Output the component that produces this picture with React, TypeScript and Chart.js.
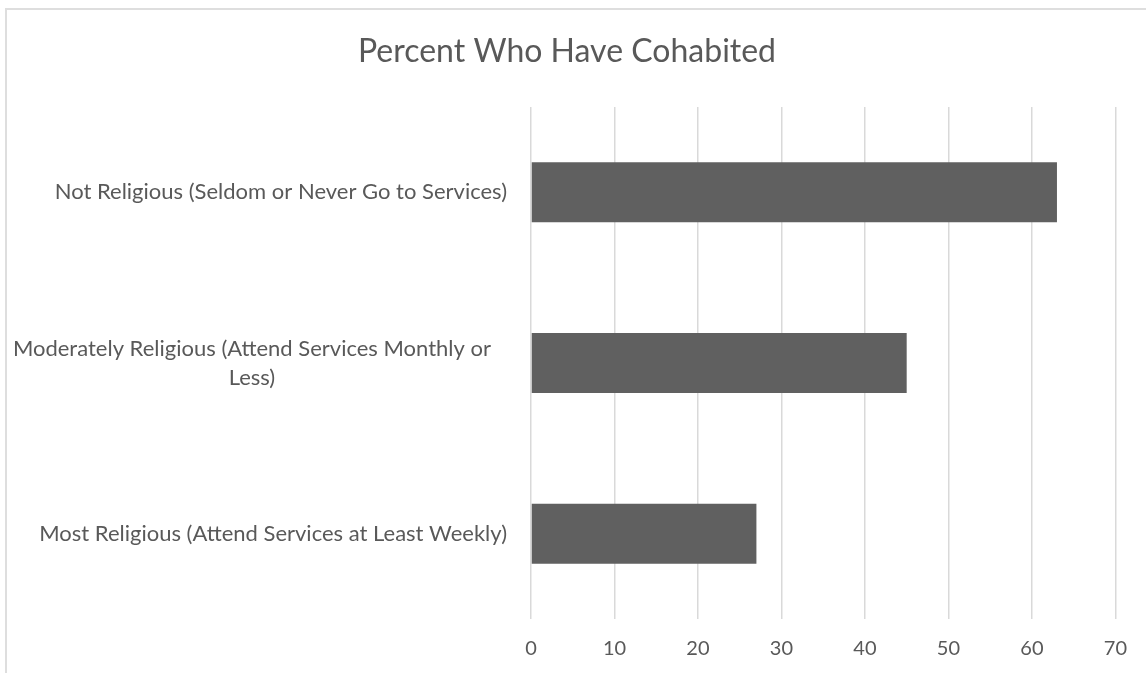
import React, { useEffect, useRef } from "react";
import { Chart, registerables } from "chart.js";

Chart.register(...registerables);

const chartTitle = "Percent Who Have Cohabited";
const categories: string[][] = [
  ["Not Religious (Seldom or Never Go to Services)"],
  ["Moderately Religious (Attend Services Monthly or", "Less)"],
  ["Most Religious (Attend Services at Least Weekly)"],
];
const values: number[] = [63, 45, 27];
const xMin = 0;
const xMax = 70;
const xStep = 10;

const TEXT = "#595959";
const FONT = "Lato, 'Open Sans', sans-serif";

const textPlugin = {
  id: "textPlugin",
  afterDraw(chart: any) {
    const ctx = chart.ctx;
    const ys = chart.scales.y;
    const labels = chart.data.labels as string[][];
    ctx.save();
    // title
    ctx.font = `32px ${FONT}`;
    ctx.fillStyle = TEXT;
    ctx.textAlign = "center";
    ctx.textBaseline = "middle";
    ctx.fillText(chartTitle, 567, 52);
    // category labels
    ctx.font = `22px ${FONT}`;
    const lh = 29;
    labels.forEach((lines, i) => {
      const yc = ys.getPixelForTick(i);
      if (lines.length === 1) {
        ctx.textAlign = "right";
        ctx.fillText(lines[0], 507, yc);
      } else {
        const maxW = Math.max(...lines.map((l) => ctx.measureText(l).width));
        const cx = 491 - maxW / 2;
        ctx.textAlign = "center";
        lines.forEach((l, j) => {
          ctx.fillText(l, cx, yc + (j - (lines.length - 1) / 2) * lh);
        });
      }
    });
    ctx.restore();
  },
};

export default function App() {
  const ref = useRef<HTMLCanvasElement | null>(null);
  useEffect(() => {
    if (!ref.current) return;
    const chart = new Chart(ref.current, {
      type: "bar",
      data: {
        labels: categories as any,
        datasets: [
          {
            label: chartTitle,
            data: values,
            backgroundColor: "#606060",
            borderWidth: 0,
            barPercentage: 0.352,
            categoryPercentage: 1,
          },
        ],
      },
      options: {
        indexAxis: "y",
        responsive: false,
        animation: false,
        layout: { padding: { left: 0, right: 30, top: 107, bottom: 0 } },
        plugins: {
          legend: { display: false },
          tooltip: { enabled: false },
          title: { display: false },
        },
        scales: {
          x: {
            min: xMin,
            max: xMax,
            ticks: {
              stepSize: xStep,
              color: TEXT,
              font: { family: FONT, size: 20, lineHeight: 1.05 },
              padding: 19,
            },
            grid: { color: "#d9d9d9", lineWidth: 1.5, drawTicks: false },
            border: { display: false },
          },
          y: {
            type: "category",
            ticks: { display: false },
            grid: { display: false, drawTicks: false },
            border: { display: false },
            afterFit: (s: any) => {
              s.width = 531;
            },
          },
        },
      },
      plugins: [textPlugin],
    });
    return () => chart.destroy();
  }, []);

  return (
    <div
      style={{
        position: "fixed",
        left: 0,
        top: 0,
        width: 1146,
        height: 673,
        overflow: "hidden",
        background: "#fff",
      }}
    >
      <div
        style={{
          position: "absolute",
          left: 5,
          top: 8,
          width: 1300,
          height: 800,
          border: "2px solid #dedede",
        }}
      />
      <canvas
        ref={ref}
        width={1146}
        height={678}
        style={{ position: "absolute", left: 0, top: 0, width: 1146, height: 678 }}
      />
    </div>
  );
}
